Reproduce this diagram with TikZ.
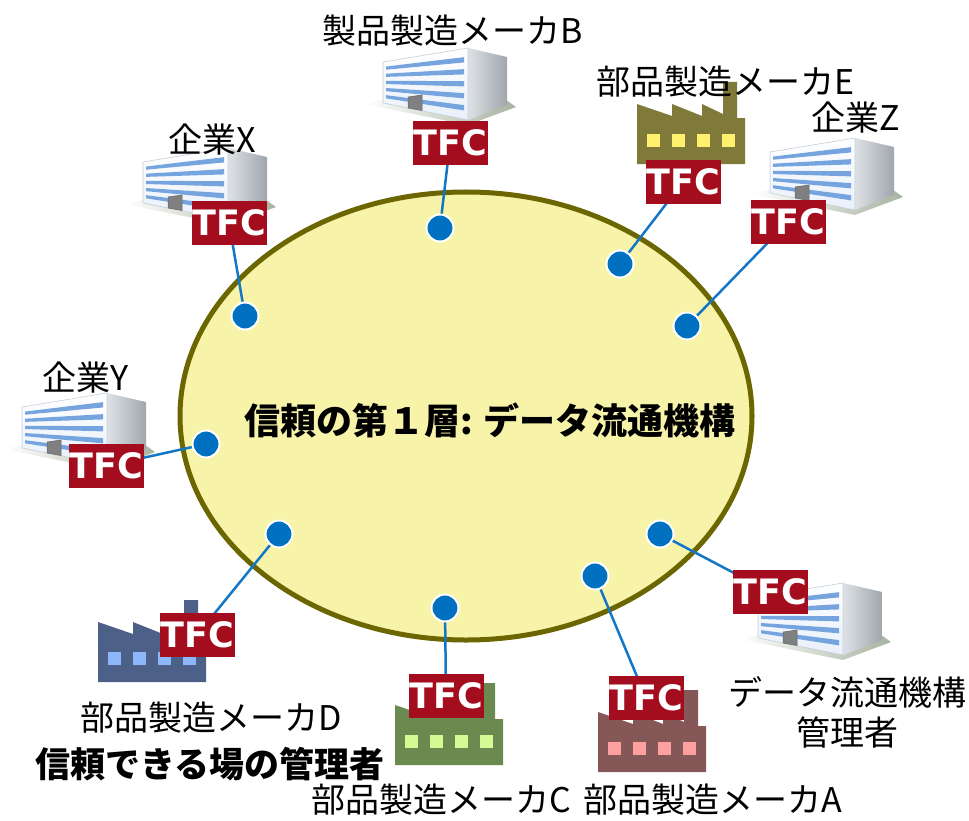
\documentclass[tikz,border=0pt]{standalone}
\usepackage{fontspec}
\setmainfont{Noto Sans CJK JP}
\newfontfamily\tfcfont{DejaVu Sans}
\usetikzlibrary{shapes.geometric}

\definecolor{ringfill}{RGB}{247,244,170}
\definecolor{ringedge}{RGB}{108,102,0}
\definecolor{dotblue}{RGB}{0,112,192}
\definecolor{linkblue}{RGB}{20,118,198}
\definecolor{tfcred}{RGB}{163,13,30}
\definecolor{stripeblue}{RGB}{118,164,222}
\definecolor{groundgray}{RGB}{168,180,160}
\definecolor{sidelight}{RGB}{222,226,230}
\definecolor{sidedark}{RGB}{160,166,172}
\definecolor{frontpale}{RGB}{232,240,250}
\definecolor{frontedge}{RGB}{200,206,214}
\definecolor{doorgray}{RGB}{128,128,128}
\definecolor{dooredge}{RGB}{100,100,100}
\definecolor{facE}{RGB}{128,122,58}   \definecolor{winE}{RGB}{255,240,110}
\definecolor{facD}{RGB}{76,96,136}    \definecolor{winD}{RGB}{142,182,250}
\definecolor{facC}{RGB}{106,138,80}   \definecolor{winC}{RGB}{212,250,150}
\definecolor{facA}{RGB}{134,87,87}    \definecolor{winA}{RGB}{255,160,160}

\pgfdeclarelayer{back}
\pgfdeclarelayer{links}
\pgfsetlayers{back,links,main}

\tikzset{
  lbl/.style={inner sep=0pt, font=\fontsize{34bp}{40bp}\selectfont},
  boldlbl/.style={inner sep=0pt, font=\bfseries\fontsize{35bp}{40bp}\selectfont},
  tfc/.style={fill=tfcred, text=white, inner sep=0pt,
    minimum width=75bp, minimum height=44bp,
    font=\tfcfont\bfseries\fontsize{35bp}{35bp}\selectfont},
  port/.style={circle, fill=dotblue, draw=white, line width=2bp,
    minimum size=27bp, inner sep=0pt},
  link/.style={draw=linkblue, line width=2.5bp},
  % office building, origin at the bottom of the front corner
  pics/office/.style={code={
    \shade[left color=white, right color=groundgray]
      (-104,-16) -- (0,5) -- (48,-13) -- (10,-40) -- cycle;
    \shade[left color=sidelight, right color=sidedark]
      (0,0) -- (0,-72) -- (39,-63) -- (39,-15) -- cycle;
    \shade[top color=white, bottom color=frontpale, draw=frontedge, line width=0.6bp]
      (-85,-17) -- (-85,-58) -- (0,-72) -- (0,0) -- cycle;
    \foreach \f in {0.12,0.29,0.46,0.63,0.80}{
      \fill[stripeblue]
        (-82,{-58.5+42.1*\f}) -- (-4,{-71.3+70.5*\f})
        -- (-4,{-71.3+70.5*(\f+0.075)}) -- (-82,{-58.5+42.1*(\f+0.075)}) -- cycle;
    }
    \filldraw[fill=doorgray, draw=dooredge, line width=0.5bp]
      (-60,-12) -- (-60,-23) -- (-46,-25) -- (-46,-9.5) -- cycle;
  }},
  % factory with saw-tooth roof, origin at the top left of its box
  pics/factory/.style 2 args={code={
    \fill[#1] (0,82) -- (0,22) -- (35,34) -- (35,22) -- (65,34) -- (65,22)
      -- (86,32) -- (86,0) -- (100,0) -- (100,36) -- (108,36) -- (108,82) -- cycle;
    \foreach \wx in {10,35,60,85}{
      \fill[#2] (\wx,52) rectangle ++(13,13);
    }
  }},
}

\begin{document}
\begin{tikzpicture}[x=1bp,y=-1bp]
\useasboundingbox (0,0) rectangle (969,821);

\begin{pgfonlayer}{back}
  % the data exchange ring
  \node[ellipse, draw=ringedge, fill=ringfill, line width=5bp,
        minimum width=572bp, minimum height=448bp, inner sep=0pt] (ring) at (466,416) {};
  % companies
  \pic at (468,120) {office};
  \pic at (228,220) {office};
  \pic at (855,210) {office};
  \pic at (107,465) {office};
  \pic at (843,655) {office};
  % parts makers
  \pic at (637,82) {factory={facE}{winE}};
  \pic at (98,600) {factory={facD}{winD}};
  \pic at (395,683) {factory={facC}{winC}};
  \pic at (598,690) {factory={facA}{winA}};
\end{pgfonlayer}

\node[inner sep=0pt, font=\bfseries\fontsize{36bp}{40bp}\selectfont] (title) at (490,420) {信頼の第１層: データ流通機構};

% connection points on the ring
\node[port] (pB) at (440,228) {};
\node[port] (pE) at (620,264) {};
\node[port] (pZ) at (687,326) {};
\node[port] (pX) at (245,316) {};
\node[port] (pY) at (206,444) {};
\node[port] (pD) at (279,534) {};
\node[port] (pC) at (445,608) {};
\node[port] (pA) at (595,576) {};
\node[port] (pM) at (660,534) {};

% TFC connectors
\node[tfc] (tB) at (450,143) {TFC};
\node[tfc] (tE) at (683,182) {TFC};
\node[tfc] (tZ) at (788,222) {TFC};
\node[tfc] (tX) at (229,223) {TFC};
\node[tfc] (tY) at (106,466) {TFC};
\node[tfc] (tD) at (197,635) {TFC};
\node[tfc] (tC) at (446,696) {TFC};
\node[tfc] (tA) at (646,698) {TFC};
\node[tfc] (tM) at (770,592) {TFC};

\begin{pgfonlayer}{links}
  \draw[link] (pB.center) -- (tB.center);
  \draw[link] (pE.center) -- (tE.center);
  \draw[link] (pZ.center) -- (tZ.center);
  \draw[link] (pX.center) -- (tX.center);
  \draw[link] (pY.center) -- (tY.center);
  \draw[link] (pD.center) -- (tD.center);
  \draw[link] (pC.center) -- (tC.center);
  \draw[link] (pA.center) -- (tA.center);
  \draw[link] (pM.center) -- (tM.center);
\end{pgfonlayer}

% labels
\node[lbl] (lB) at (453,31) {製品製造メーカB};
\node[lbl] (lE) at (726,82) {部品製造メーカE};
\node[lbl] (lZ) at (856,118) {企業Z};
\node[lbl] (lX) at (212,140) {企業X};
\node[lbl] (lY) at (86,378) {企業Y};
\node[lbl, align=center] (lM) at (847,712) {データ流通機構\\管理者};
\node[lbl] (lD) at (211,718) {部品製造メーカD};
\node[boldlbl] (lD2) at (210,764) {信頼できる場の管理者};
\node[lbl] (lC) at (441,800) {部品製造メーカC};
\node[lbl] (lA) at (713,800) {部品製造メーカA};
\end{tikzpicture}
\end{document}
